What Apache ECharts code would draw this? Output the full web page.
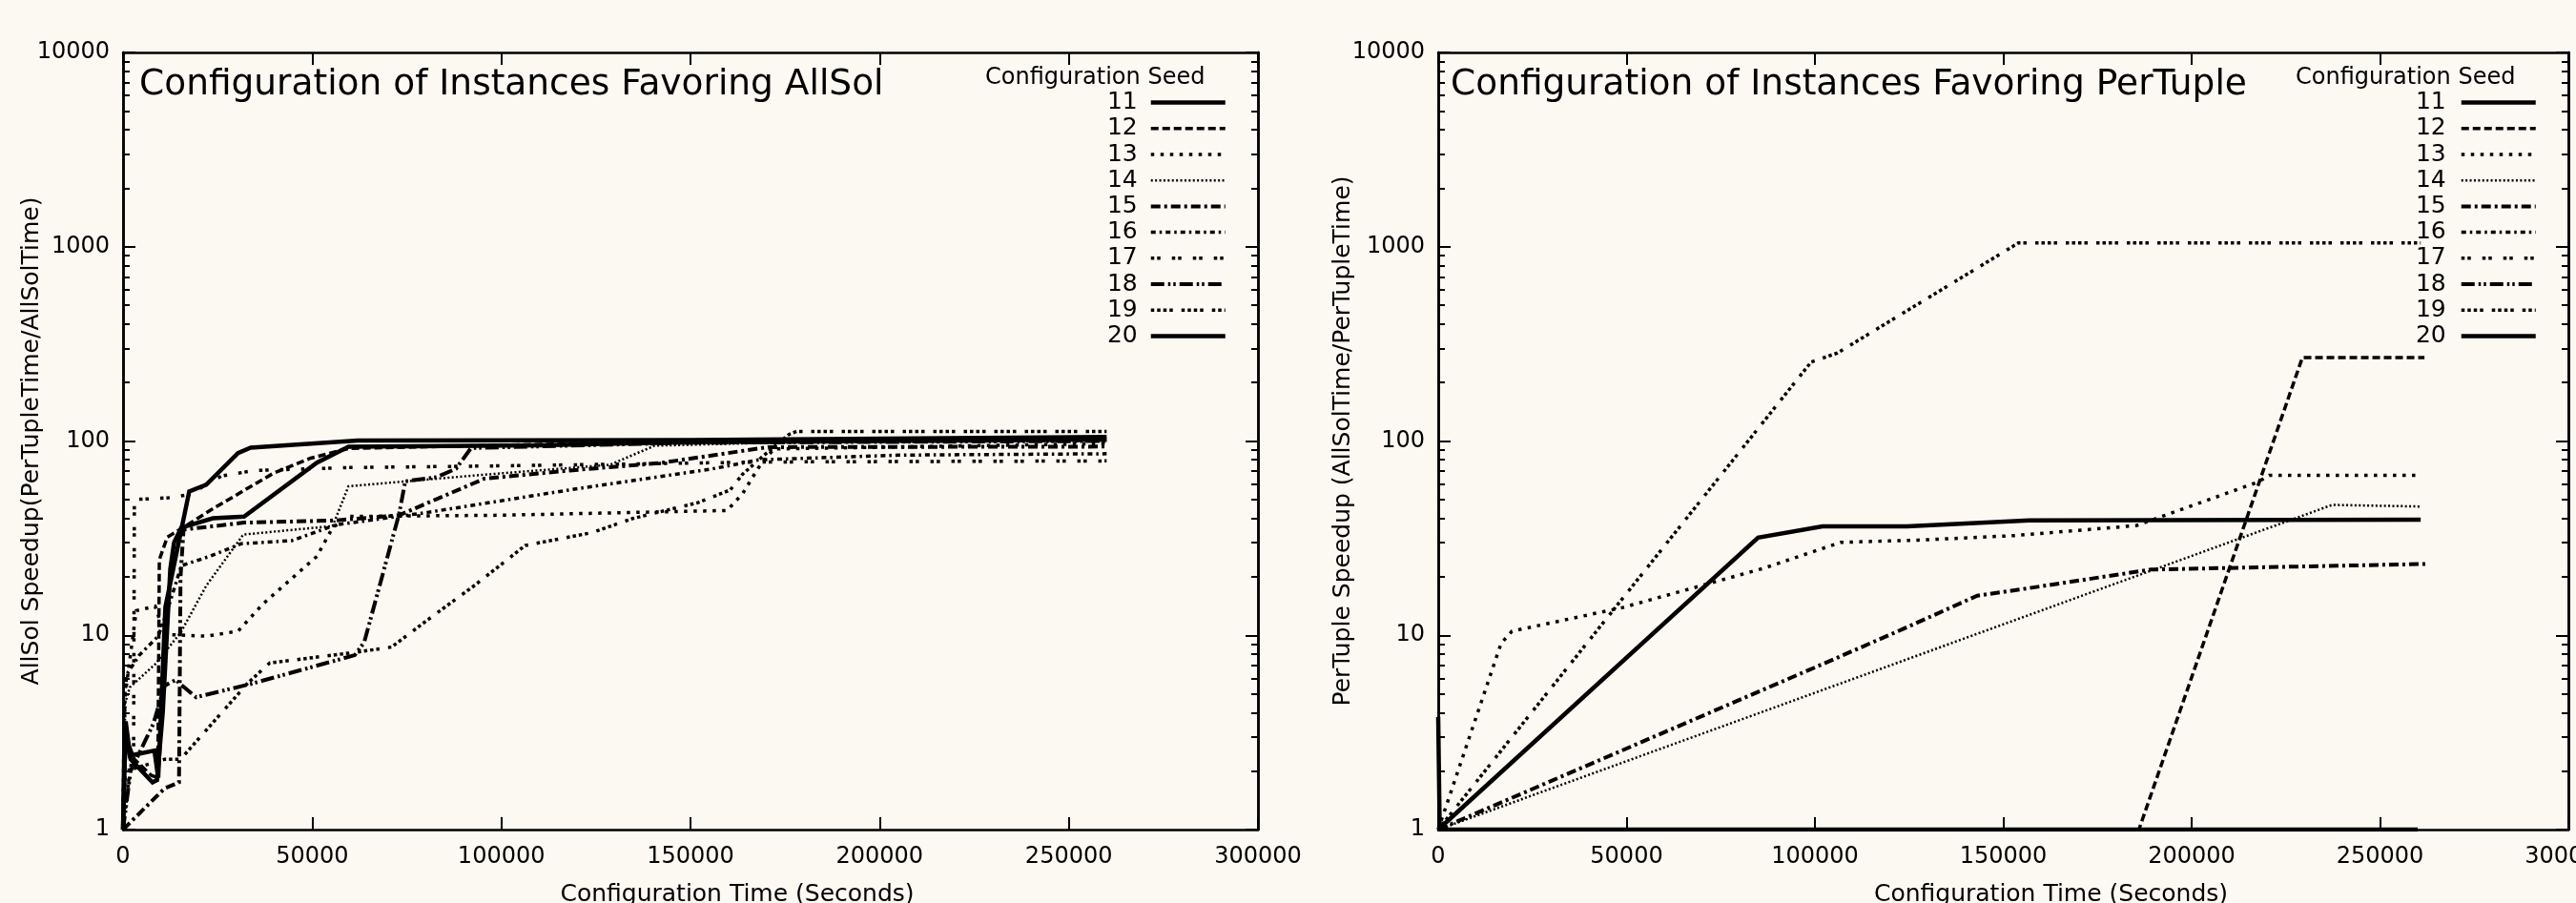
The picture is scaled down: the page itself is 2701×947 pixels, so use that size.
<!DOCTYPE html>
<html>
<head>
<meta charset="utf-8">
<script src="https://cdn.jsdelivr.net/npm/echarts@6/dist/echarts.min.js"></script>
<style>
html,body{margin:0;padding:0;background:#fcf8f2;}
#chart{width:2701px;height:947px;}
</style>
</head>
<body>
<div id="chart"></div>
<script>
// ---------- labels / ticks ----------
const seeds = ['11','12','13','14','15','16','17','18','19','20'];
const xTickValues = [0, 50000, 100000, 150000, 200000, 250000, 300000];
const yMajorTicks = [1, 10, 100, 1000, 10000];
const yMinorTicks = [2,3,4,5,6,7,8,9,20,30,40,50,60,70,80,90,200,300,400,500,600,700,800,900,2000,3000,4000,5000,6000,7000,8000,9000];
const leftTitle = 'Configuration of Instances Favoring AllSol';
const rightTitle = 'Configuration of Instances Favoring PerTuple';
const legendTitle = 'Configuration Seed';
const xName = 'Configuration Time (Seconds)';
const leftYName = 'AllSol Speedup(PerTupleTime/AllSolTime)';
const rightYName = 'PerTuple Speedup (AllSolTime/PerTupleTime)';

// ---------- AllSol panel data [configTime, speedup] ----------
const allSol11 = [[0,1],[400,3.2],[1800,2.4],[8300,2.55],[9300,1.85],[11200,14],[17500,55],[22000,59.5],[30400,86.7],[33750,92.5],[62000,100.7],[150000,101],[260000,105]];
const allSol12 = [[0,1],[800,3],[3000,2.3],[7500,1.9],[9200,1.85],[9600,24.5],[11700,32],[15800,35.8],[23750,44.8],[39600,68],[49600,81.6],[59600,91.5],[120000,97],[260000,101]];
const allSol13 = [[0,1],[300,4.5],[3500,13.4],[8500,14.1],[11000,10.1],[22000,9.9],[30400,10.5],[37000,14.5],[44600,19.6],[51250,25.5],[55400,35.8],[59600,40.9],[100000,41.5],[159700,43.9],[163800,53.7],[168000,73],[172000,91],[260000,97]];
const allSol14 = [[0,1],[600,4.5],[1800,5.4],[8500,7.1],[15200,10.3],[22000,18],[31800,33],[55400,36.5],[59600,58.5],[93000,66.5],[128800,75.5],[140500,94.6],[180000,99],[260000,100]];
const allSol15 = [[0,1],[11000,1.63],[14800,1.75],[15200,20],[16000,35],[32000,38],[56000,39],[73000,41.5],[80500,48],[95500,64],[118000,70.5],[142000,77],[170500,93],[260000,93.6]];
const allSol16 = [[0,1],[500,5],[1000,6.3],[4300,7.9],[9300,9.9],[11500,13],[15400,22.8],[22900,25.5],[31250,29.6],[44600,30.7],[56250,37],[80500,42.9],[120500,57],[155500,71.7],[168000,80],[205000,84.6],[260000,86]];
const allSol17 = [[0,1],[1500,1.8],[2800,2.6],[3000,50],[8000,50.5],[12000,51],[18300,53.3],[22000,60],[26000,66],[34600,70.5],[60000,73],[100000,74.5],[170000,78],[260000,79]];
const allSol18 = [[0,1],[2000,2],[8000,3.5],[11000,5.5],[13900,5.9],[15200,5.6],[19300,4.8],[33500,5.6],[61250,7.9],[63750,9.2],[73000,42.3],[74600,62],[82900,65.2],[88000,72],[92000,92],[150000,98],[260000,100]];
const allSol19 = [[0,1],[600,2],[11000,2.3],[15200,2.3],[32900,5.65],[38750,7.2],[62000,8.2],[71000,8.7],[80500,12],[93000,18.1],[106300,29],[123800,33.7],[134700,39.9],[152000,48.2],[160500,56],[163800,67.6],[169000,83],[176000,108],[178000,112],[260000,112]];
const allSol20 = [[0,1],[700,3.6],[2000,2.3],[7800,1.75],[9000,1.8],[10500,4],[12500,22],[13500,30],[15400,35.8],[23750,40],[32000,40.8],[51250,77.4],[59600,93.5],[110000,95],[150000,99],[260000,102]];

// ---------- PerTuple panel data ----------
const perTuple11 = [[0,3.8],[400,1],[260000,1]];
const perTuple12 = [[0,1],[186000,1],[229400,269],[261800,269]];
const perTuple13 = [[0,1],[16700,9.1],[19600,10.5],[49000,13.9],[86300,22.1],[106900,30.1],[127500,30.9],[153000,32.6],[185300,36.7],[217600,61.5],[220600,66.5],[260800,66.5]];
const perTuple14 = [[0,1],[237300,46.9],[260800,46]];
const perTuple15 = [[0,1],[102000,7.1],[123500,10.8],[143100,16],[156900,17.5],[189200,21.8],[262700,23.3]];
const perTuple16 = [[0,1],[260000,1]];
const perTuple17 = [[0,1],[260000,1]];
const perTuple18 = [[0,1],[260000,1]];
const perTuple19 = [[0,1],[99000,255],[106000,284],[154000,1045],[260800,1045]];
const perTuple20 = [[0,1],[84900,31.8],[102000,36.4],[124500,36.4],[156900,39],[260800,39.4]];

const allSolData = [allSol11, allSol12, allSol13, allSol14, allSol15, allSol16, allSol17, allSol18, allSol19, allSol20];
const perTupleData = [perTuple11, perTuple12, perTuple13, perTuple14, perTuple15, perTuple16, perTuple17, perTuple18, perTuple19, perTuple20];

// ---------- styles ----------
const FONT = 'DejaVu Sans';
const INK = '#000000';
const seedStyle = {
  '11': {w: 4.5, d: 'solid'},
  '12': {w: 3.5, d: [8, 4]},
  '13': {w: 3.5, d: [3.5, 6.5]},
  '14': {w: 2.5, d: [2, 2.4]},
  '15': {w: 4, d: [10, 4, 3, 4]},
  '16': {w: 3.5, d: [5, 4, 2.5, 4]},
  '17': {w: 3.5, d: [3.5, 3, 3.5, 12]},
  '18': {w: 4, d: [14, 4, 2.5, 3, 2.5, 4]},
  '19': {w: 3.5, d: [3.5, 3, 3.5, 3, 3.5, 3, 3.5, 9]},
  '20': {w: 4.5, d: 'solid'}
};

const chart = echarts.init(document.getElementById('chart'), null, {renderer: 'canvas'});

const gridLeft = {left: 129, top: 55, width: 1190, height: 815, containLabel: false, outerBoundsMode: 'none'};
const gridRight = {left: 1508, top: 55, width: 1185, height: 815, containLabel: false, outerBoundsMode: 'none'};

const frameLine = {show: true, onZero: false, lineStyle: {color: INK, width: 2.5}};
const fmt = v => String(Math.round(v));

function xMain(gi, name, padLeft) {
  return {
    type: 'value', gridIndex: gi, position: 'bottom', min: 0, max: 300000, interval: 50000,
    axisLine: frameLine,
    axisTick: {show: true, inside: true, length: 13, lineStyle: {color: INK, width: 2}},
    axisLabel: {show: true, fontSize: 24, color: INK, fontFamily: FONT, margin: 17, formatter: fmt, hideOverlap: false},
    splitLine: {show: false},
    name: name, nameLocation: 'middle', nameGap: 56, nameMoveOverlap: false,
    nameTextStyle: {fontSize: 25, color: INK, fontFamily: FONT, padding: [0, 0, 0, padLeft]}
  };
}
function xTop(gi) {
  return {
    type: 'value', gridIndex: gi, position: 'top', min: 0, max: 300000, interval: 50000,
    axisLine: frameLine,
    axisTick: {show: true, inside: true, length: 13, lineStyle: {color: INK, width: 2}},
    axisLabel: {show: false}, splitLine: {show: false}
  };
}
function xHidden(gi) {
  return {type: 'value', gridIndex: gi, min: 0, max: 300000, show: false, splitLine: {show: false}};
}
function yAxisDef(gi, pos, ticks, len, withLabel, name, gap) {
  const a = {
    type: 'log', logBase: 10, gridIndex: gi, position: pos, min: 1, max: 10000,
    axisLine: frameLine,
    axisTick: {show: true, inside: true, length: len, customValues: ticks, lineStyle: {color: INK, width: 2}},
    axisLabel: {show: withLabel, customValues: yMajorTicks, fontSize: 24, color: INK, fontFamily: FONT, margin: 14, formatter: fmt},
    splitLine: {show: false}, minorTick: {show: false}, minorSplitLine: {show: false}
  };
  if (name) {
    a.name = name; a.nameLocation = 'middle'; a.nameGap = gap; a.nameMoveOverlap = false;
    a.nameTextStyle = {fontSize: 25, color: INK, fontFamily: FONT};
  }
  return a;
}

function mkSeries(name, data, xi, yi) {
  const st = seedStyle[name];
  return {
    type: 'line', name: name, data: data, xAxisIndex: xi, yAxisIndex: yi,
    symbol: 'none', showSymbol: false, smooth: false, silent: true, clip: true,
    lineStyle: {color: INK, width: st.w, type: st.d, cap: 'butt', join: 'miter'},
    itemStyle: {color: INK},
    emphasis: {disabled: true}
  };
}

const series = [];
seeds.forEach((s, i) => series.push(mkSeries(s, allSolData[i], 0, 0)));
seeds.forEach((s, i) => series.push(mkSeries(s, perTupleData[i], 3, 4)));

function legendDef(rightPx, padRight) {
  return {
    show: true, orient: 'vertical', align: 'right', right: rightPx, top: 94, padding: 0,
    itemWidth: 78, itemHeight: 14, itemGap: 0, selectedMode: false,
    textStyle: {fontSize: 25, lineHeight: 27.2, color: INK, fontFamily: FONT, padding: [0, padRight, 0, 0]},
    itemStyle: {opacity: 0},
    data: seeds.map(s => ({
      name: s,
      lineStyle: {color: INK, width: seedStyle[s].w, type: seedStyle[s].d, opacity: 1},
      itemStyle: {opacity: 0}
    }))
  };
}

const option = {
  backgroundColor: '#fcf8f2',
  animation: false,
  textStyle: {fontFamily: FONT, color: INK},
  title: [
    {text: leftTitle, left: 146, top: 70, padding: 0, textStyle: {fontSize: 37.5, fontWeight: 'normal', color: INK, fontFamily: FONT}},
    {text: rightTitle, left: 1521, top: 70, padding: 0, textStyle: {fontSize: 37.5, fontWeight: 'normal', color: INK, fontFamily: FONT}},
    {text: legendTitle, left: 1033, top: 70, padding: 0, textStyle: {fontSize: 24, fontWeight: 'normal', color: INK, fontFamily: FONT}},
    {text: legendTitle, left: 2407, top: 70, padding: 0, textStyle: {fontSize: 24, fontWeight: 'normal', color: INK, fontFamily: FONT}}
  ],
  legend: [legendDef(1414, 9), legendDef(40, 11)],
  grid: [gridLeft, gridLeft, gridRight, gridRight],
  xAxis: [xMain(0, xName, 98), xTop(0), xHidden(1), xMain(2, xName, 100), xTop(2), xHidden(3)],
  yAxis: [
    yAxisDef(0, 'left', yMajorTicks, 13, true, leftYName, 83),
    yAxisDef(0, 'right', yMajorTicks, 13, false),
    yAxisDef(1, 'left', yMinorTicks, 7, false),
    yAxisDef(1, 'right', yMinorTicks, 7, false),
    yAxisDef(2, 'left', yMajorTicks, 13, true, rightYName, 87),
    yAxisDef(2, 'right', yMajorTicks, 13, false),
    yAxisDef(3, 'left', yMinorTicks, 7, false),
    yAxisDef(3, 'right', yMinorTicks, 7, false)
  ],
  series: series
};
chart.setOption(option);
</script>
</body>
</html>
